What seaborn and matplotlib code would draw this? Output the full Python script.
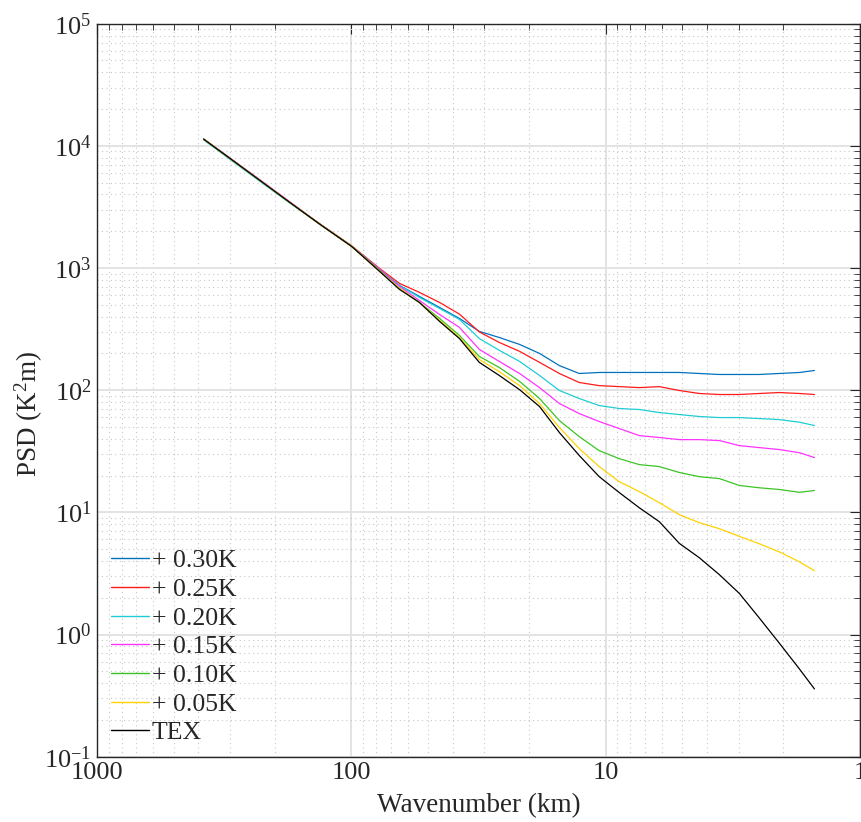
import numpy as np
import pandas as pd
import matplotlib
matplotlib.use("Agg")
import matplotlib.pyplot as plt
import matplotlib.ticker as mticker
import seaborn as sns

# ---- data ----
wavelength_km = [381, 301, 229.5, 175, 133, 99.8, 77.5, 64.7, 54.0, 45.0, 37.6, 31.4,
                 26.2, 21.8, 18.2, 15.2, 12.7, 10.6, 8.83, 7.37, 6.15, 5.13, 4.28,
                 3.57, 2.98, 2.49, 2.08, 1.73, 1.51]

psd_030 = [11350, 7930, 5235, 3455, 2282, 1506, 976, 721, 586, 476, 387, 303,
           270, 237, 200, 159, 137, 139.7, 139.7, 139.7, 139.7, 139.7, 137,
           134.5, 134.5, 134.5, 137, 139.7, 145]
psd_025 = [11350, 7930, 5235, 3455, 2300, 1520, 994, 749, 632, 523, 420, 300,
           246, 208, 169, 137, 115.6, 109, 107, 105, 107, 99.4, 94.0,
           92.2, 92.2, 94.0, 95.7, 94.0, 92.2]
psd_020 = [11200, 7800, 5150, 3420, 2282, 1506, 976, 721, 575, 467, 380, 265,
           212, 172, 132, 99.4, 85.5, 74.9, 70.8, 69.5, 65.6, 63.2, 60.9,
           59.7, 59.7, 58.6, 57.5, 54.7, 51.4]
psd_015 = [11400, 8000, 5300, 3500, 2290, 1506, 976, 708, 543, 417, 327, 216,
           172, 137, 105, 77.8, 64.4, 55.4, 48.5, 42.5, 41.0, 39.4, 39.4,
           38.7, 35.2, 33.9, 32.7, 30.8, 28.1]
psd_010 = [11350, 7930, 5235, 3455, 2282, 1506, 957, 682, 523, 387, 281, 189,
           153.5, 118, 85.5, 56.4, 41.7, 32.0, 27.5, 24.6, 23.7, 21.2, 19.6,
           18.9, 16.6, 15.9, 15.4, 14.6, 15.1]
psd_005 = [11350, 7930, 5235, 3455, 2282, 1506, 940, 682, 523, 373, 270, 178.5,
           142, 109, 77.8, 49.5, 33.3, 23.7, 17.8, 14.8, 12.0, 9.57, 8.23,
           7.35, 6.36, 5.54, 4.76, 3.94, 3.33]
psd_tex = [11350, 7930, 5235, 3455, 2282, 1506, 940, 669, 523, 366, 265, 169,
           132, 101, 73.5, 45.0, 29.2, 19.6, 14.5, 10.9, 8.39, 5.57, 4.25,
           3.09, 2.17, 1.37, 0.855, 0.523, 0.359]

series_labels = ["+ 0.30K", "+ 0.25K", "+ 0.20K", "+ 0.15K", "+ 0.10K", "+ 0.05K", "TEX"]
series_values = [psd_030, psd_025, psd_020, psd_015, psd_010, psd_005, psd_tex]
series_colors = ["#0072BD", "#FF1A1A", "#20CCD4", "#FF33FF", "#3CC425", "#FFD200", "#000000"]

xtick_values = [1000, 100, 10, 1]
xtick_labels = ["1000", "100", "10", "1"]

df = pd.concat(
    [pd.DataFrame({"wavelength": wavelength_km, "psd": v, "series": lab})
     for lab, v in zip(series_labels, series_values)],
    ignore_index=True,
)

# ---- style ----
sns.set_theme(style="white")
plt.rcParams["font.family"] = ["Liberation Serif", "DejaVu Serif"]
plt.rcParams["mathtext.fontset"] = "custom"
plt.rcParams["mathtext.rm"] = "Liberation Serif"
plt.rcParams["mathtext.it"] = "Liberation Serif:italic"
plt.rcParams["axes.unicode_minus"] = False

fig = plt.figure(figsize=(8.61, 8.22), dpi=100)
ax = fig.add_axes([0.1127, 0.0794, 0.8861, 0.8918])

sns.lineplot(data=df, x="wavelength", y="psd", hue="series",
             hue_order=series_labels, palette=series_colors,
             estimator=None, linewidth=0.9, ax=ax)

ax.set_xscale("log")
ax.set_yscale("log")
ax.set_xlim(1000, 1)
ax.set_ylim(1e-1, 1e5)

ax.xaxis.set_major_locator(mticker.FixedLocator(xtick_values))
ax.xaxis.set_major_formatter(mticker.FixedFormatter(xtick_labels))
ax.xaxis.set_minor_locator(mticker.LogLocator(base=10, subs=np.arange(2, 10)))
ax.xaxis.set_minor_formatter(mticker.NullFormatter())
ax.yaxis.set_major_locator(mticker.LogLocator(base=10, numticks=10))
ax.yaxis.set_minor_locator(mticker.LogLocator(base=10, subs=np.arange(2, 10), numticks=20))
ax.yaxis.set_minor_formatter(mticker.NullFormatter())

ax.grid(True, which="major", color="#e3e3e3", linewidth=1.4, linestyle="-")
ax.grid(True, which="minor", color="#c8c8c8", linewidth=0.8, linestyle=(0, (1, 3)))
ax.set_axisbelow(True)

for s in ax.spines.values():
    s.set_color("#262626")
    s.set_linewidth(1.0)
    s.set_visible(True)

ax.tick_params(which="both", direction="in", top=True, right=True,
               colors="#262626", labelcolor="#262626")
ax.tick_params(which="major", length=7, width=0.8, labelsize=19, pad=4)
ax.tick_params(which="minor", length=4, width=0.6)

ax.set_xlabel("Wavenumber (km)", fontsize=19.5, color="#262626")
ax.set_ylabel("PSD (K$^2$m)", fontsize=19.5, color="#262626")
ax.xaxis.set_label_coords(0.5, -0.049)
ax.yaxis.set_label_coords(-0.068, 0.468)

leg = ax.legend(loc="lower left", bbox_to_anchor=(0.012, 0.01), frameon=False,
                fontsize=18.5, handlelength=1.45, handletextpad=0.12,
                labelspacing=0.22, borderaxespad=0.0, borderpad=0.2)
for line in leg.get_lines():
    line.set_linewidth(1.0)

fig.savefig("out.png", dpi=100)
